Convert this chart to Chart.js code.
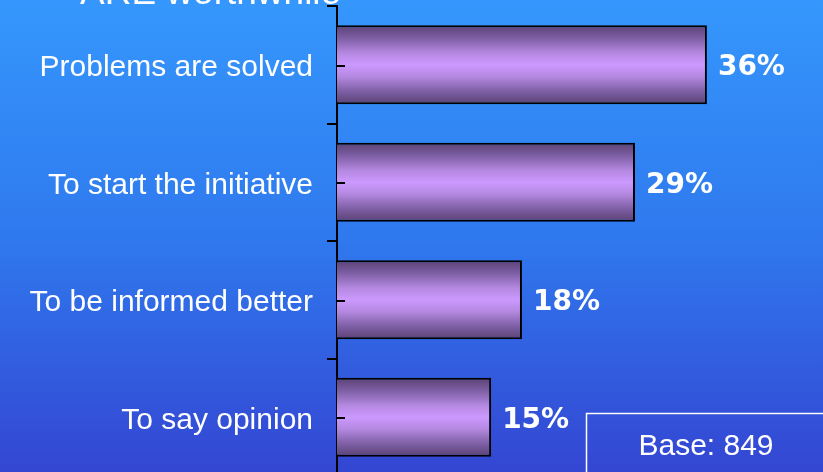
<!DOCTYPE html>
<html>
<head>
<meta charset="utf-8">
<script src="https://cdn.jsdelivr.net/npm/chart.js@4/dist/chart.umd.min.js"></script>
<style>
  html, body { margin: 0; padding: 0; overflow: hidden; background: #3446D2; }
  #wrap { width: 823px; height: 476px; }
</style>
</head>
<body>
<div id="wrap"><canvas id="c" width="823" height="476"></canvas></div>
<script>
const categories = ["Problems are solved", "To start the initiative", "To be informed better", "To say opinion"];
const values = [36, 29, 18, 15];
const valueLabels = ["36%", "29%", "18%", "15%"];
const titleText = "ARE worthwhile";
const baseText = "Base: 849";

const LABEL_FONT = "'Liberation Sans', Arial, sans-serif";

function barGradient(context) {
  const chart = context.chart;
  const yScale = chart.scales && chart.scales.y;
  if (!chart.chartArea || !yScale) return "#CC99FF";
  const c = yScale.getPixelForValue(context.dataIndex);
  const half = (yScale.height / categories.length) * 0.672 / 2;
  const g = chart.ctx.createLinearGradient(0, c - half, 0, c + half);
  g.addColorStop(0, "#5A4273");
  g.addColorStop(0.15, "#7A5CA0");
  g.addColorStop(0.35, "#B488E0");
  g.addColorStop(0.5, "#CC99FF");
  g.addColorStop(0.65, "#B488E0");
  g.addColorStop(0.85, "#7A5CA0");
  g.addColorStop(1, "#5A4273");
  return g;
}

const decor = {
  id: "decor",
  beforeDraw(chart) {
    const ctx = chart.ctx;
    const g = ctx.createLinearGradient(0, 0, 0, 472);
    g.addColorStop(0, "#3597FD");
    g.addColorStop(0.5, "#2F79EE");
    g.addColorStop(1, "#3446D2");
    ctx.save();
    ctx.fillStyle = g;
    ctx.fillRect(0, 0, chart.width, chart.height);
    ctx.fillStyle = "#FFFFFF";
    ctx.font = "37px " + LABEL_FONT;
    ctx.textAlign = "left";
    ctx.textBaseline = "alphabetic";
    ctx.fillText(titleText, 80, 4);
    ctx.restore();
  },
  afterDatasetsDraw(chart) {
    const ctx = chart.ctx;
    const meta = chart.getDatasetMeta(0);
    const yScale = chart.scales.y;
    ctx.save();
    ctx.strokeStyle = "#000000";
    ctx.lineWidth = 2;
    categories.forEach((_, i) => {
      const y = Math.round(yScale.getPixelForValue(i)) + 1;
      ctx.beginPath();
      ctx.moveTo(chart.chartArea.left, y);
      ctx.lineTo(chart.chartArea.left + 8, y);
      ctx.stroke();
    });
    ctx.fillStyle = "#FFFFFF";
    ctx.font = "bold 28px 'DejaVu Sans', sans-serif";
    ctx.textAlign = "left";
    ctx.textBaseline = "middle";
    meta.data.forEach((bar, i) => {
      ctx.fillText(valueLabels[i], bar.x + 11, bar.y + 3);
    });
    ctx.strokeStyle = "#FFFFFF";
    ctx.lineWidth = 1.5;
    ctx.strokeRect(586.5, 413.5, 300, 100);
    ctx.font = "30px " + LABEL_FONT;
    ctx.textAlign = "center";
    ctx.textBaseline = "alphabetic";
    ctx.fillText(baseText, 706, 455);
    ctx.restore();
  }
};

new Chart(document.getElementById("c"), {
  type: "bar",
  data: {
    labels: categories,
    datasets: [{
      data: values,
      backgroundColor: barGradient,
      borderColor: "#000000",
      borderWidth: 2,
      borderSkipped: "start",
      barPercentage: 0.672,
      categoryPercentage: 1
    }]
  },
  options: {
    indexAxis: "y",
    responsive: false,
    animation: false,
    devicePixelRatio: 1,
    layout: { padding: { top: 6, right: 75, left: 0, bottom: 0 } },
    plugins: { legend: { display: false }, tooltip: { enabled: false }, title: { display: false } },
    scales: {
      x: { display: false, min: 0, max: 40 },
      y: {
        offset: true,
        afterFit(scale) {
          scale.width = 337;
          scale.paddingTop = 0;
          scale.paddingBottom = 0;
        },
        grid: {
          display: true,
          offset: true,
          drawOnChartArea: false,
          drawTicks: true,
          tickLength: 10,
          color: "#000000",
          lineWidth: 2
        },
        border: { display: true, color: "#000000", width: 2 },
        ticks: {
          color: "#FFFFFF",
          font: { family: "'Liberation Sans', Arial, sans-serif", size: 30 },
          padding: 14,
          labelOffset: 3
        }
      }
    }
  },
  plugins: [decor]
});
</script>
</body>
</html>
